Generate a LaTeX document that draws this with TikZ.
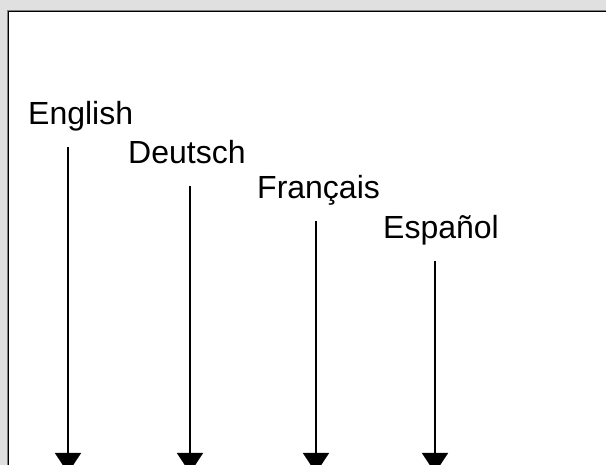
\documentclass[tikz,border=0pt]{standalone}
\usepackage{fontspec}
\setmainfont{Liberation Sans}
\usetikzlibrary{arrows.meta}
\definecolor{panelgray}{HTML}{E0E0E0}
\definecolor{edgegray}{HTML}{808080}
\tikzset{
  lang/.style={anchor=base west, inner xsep=0pt, inner ysep=11pt, text depth=11pt,
               font=\fontsize{32}{38}\selectfont},
  flow/.style={line width=1.5pt, -{Triangle[width=26pt,length=20pt]}},
}
\begin{document}
\begin{tikzpicture}[x=1pt,y=-1pt]
    \useasboundingbox (0,0) rectangle (606,465);
    \fill[panelgray] (0,0) rectangle (606,465);
    \fill[white] (8,11) rectangle (606,465);
    \draw[edgegray] (7.5,475) -- (7.5,10.5) -- (606,10.5);
    \draw[black] (8.5,475) -- (8.5,11.5) -- (606,11.5);

    \node[lang] (en) at (28,125) {English};
    \node[lang] (de) at (128,164) {Deutsch};
    \node[lang] (fr) at (257,199) {Français};
    \node[lang] (es) at (383,239) {Español};

    \coordinate (en-end) at (68,473);
    \coordinate (de-end) at (190,473);
    \coordinate (fr-end) at (316,473);
    \coordinate (es-end) at (435,473);

    \draw[flow] (en.south -| en-end) -- (en-end);
    \draw[flow] (de.south -| de-end) -- (de-end);
    \draw[flow] (fr.south -| fr-end) -- (fr-end);
    \draw[flow] (es.south -| es-end) -- (es-end);
\end{tikzpicture}
\end{document}
